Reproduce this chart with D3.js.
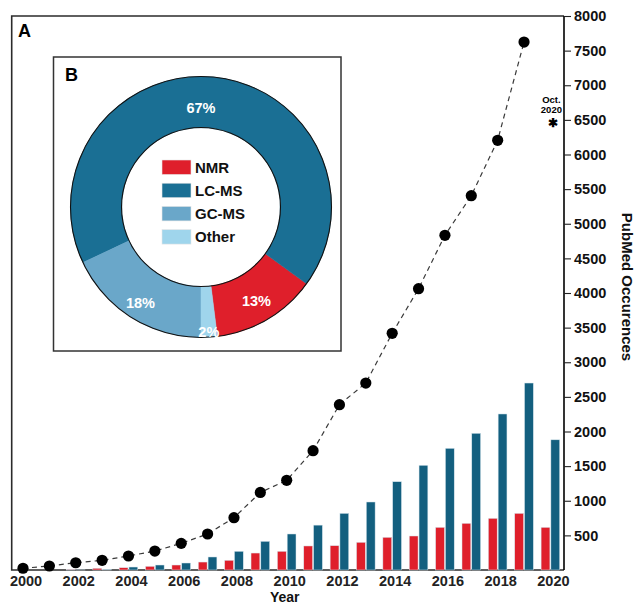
<!DOCTYPE html>
<html>
<head>
<meta charset="utf-8">
<script src="https://cdn.jsdelivr.net/npm/d3@7/dist/d3.min.js"></script>
<style>
  html, body { margin: 0; padding: 0; background: #fff; }
  svg { display: block; font-family: "Liberation Sans", Arial, Helvetica, sans-serif; }
</style>
</head>
<body>
<svg id="chart" width="636" height="606"></svg>
<script>
// ---- Data ----------------------------------------------------------------
const years = d3.range(2000, 2021);
// Yearly PubMed hits per technique (bars)
const nmrCounts  = [0, 0, 8, 25, 33, 53, 72, 115, 140, 245, 270, 347, 351, 400, 472, 491, 616, 674, 746, 818, 616];
const lcmsCounts = [0, 0, 2, 10, 43, 72, 101, 188, 270, 414, 520, 648, 818, 982, 1275, 1512, 1757, 1974, 2253, 2700, 1880];
// Total metabolomics hits per year (dots, 2000-2019) and the partial 2020 count
const totalYears  = d3.range(2000, 2020);
const totalCounts = [25, 58, 105, 140, 202, 274, 385, 520, 755, 1120, 1295, 1723, 2387, 2700, 3418, 4062, 4833, 5405, 6205, 7624];
const partialYear = 2020;
const partialCount = 6455;
// Share of techniques (inset donut), legend order
const techniques = ["NMR", "LC-MS", "GC-MS", "Other"];
const techShare  = [13, 67, 18, 2];
// Axis ticks
const yTicks = d3.range(500, 8001, 500);
const xTickYears = d3.range(2000, 2021, 2);

// ---- Styles ----------------------------------------------------------------
const colors = { "NMR": "#df1f2b", "LC-MS": "#1a6f94", "GC-MS": "#6aa7c9", "Other": "#9fd5ec" };
const barColors = { "NMR": "#df1f2b", "LC-MS": "#135f7f" };

const svg = d3.select("#chart");

// ---- Scales ----------------------------------------------------------------
const frame = { left: 11.7, right: 564, top: 16, bottom: 570 };
const x = d3.scaleLinear().domain([2000, 2020]).range([23, 550.4]);
const y = d3.scaleLinear().domain([0, 8000]).range([frame.bottom, frame.top]);
const sub = d3.scaleBand().domain(["NMR", "LC-MS"]).range([-9.3, 9.3]).paddingInner(0.1);

// ---- Frame -----------------------------------------------------------------
svg.append("path")
  .attr("d", `M${frame.right},${frame.top}H${frame.left}V${frame.bottom}H${frame.right}`)
  .attr("fill", "none").attr("stroke", "#2b2b2b").attr("stroke-width", 1.6);

// ---- Bars ------------------------------------------------------------------
const barRows = [];
years.forEach((yr, i) => {
  barRows.push({ year: yr, key: "NMR", value: nmrCounts[i] });
  barRows.push({ year: yr, key: "LC-MS", value: lcmsCounts[i] });
});
svg.append("g").selectAll("rect").data(barRows.filter(d => d.value > 0)).join("rect")
  .attr("x", d => x(d.year) + sub(d.key))
  .attr("width", sub.bandwidth())
  .attr("y", d => y(d.value))
  .attr("height", d => y(0) - y(d.value))
  .attr("fill", d => barColors[d.key])
  .attr("stroke", "#d8e6ee").attr("stroke-width", 0.5);

// ---- Total line + dots -----------------------------------------------------
const totals = totalYears.map((yr, i) => ({ year: yr, value: totalCounts[i] }));
svg.append("path")
  .datum(totals)
  .attr("d", d3.line().x(d => x(d.year)).y(d => y(d.value)))
  .attr("fill", "none").attr("stroke", "#3a3a3a").attr("stroke-width", 1.2)
  .attr("stroke-dasharray", "5,4");
svg.append("g").selectAll("circle").data(totals).join("circle")
  .attr("cx", d => x(d.year)).attr("cy", d => y(d.value)).attr("r", 5.6)
  .attr("fill", "#000");

// Partial-year marker
const px = x(partialYear) + 3, py = y(partialCount);
svg.append("text").attr("x", px).attr("y", py + 4.5).attr("text-anchor", "middle")
  .attr("font-size", 12).attr("font-weight", "bold").text("✱");
svg.append("text").attr("x", px - 2).attr("y", py - 19.5).attr("text-anchor", "middle")
  .attr("font-size", 9.5).attr("font-weight", "bold").text("Oct.");
svg.append("text").attr("x", px - 2).attr("y", py - 9.5).attr("text-anchor", "middle")
  .attr("font-size", 9.5).attr("font-weight", "bold").text("2020");

// ---- Right axis ------------------------------------------------------------
const yAxis = svg.append("g")
  .attr("transform", `translate(${frame.right},0)`)
  .call(d3.axisRight(y).tickValues(yTicks).tickFormat(d3.format("d"))
    .tickSize(7).tickPadding(3).tickSizeOuter(0));
yAxis.select(".domain").attr("stroke", "#000").attr("stroke-width", 1.6)
  .attr("d", `M0,${frame.top}V${frame.bottom}`);
yAxis.selectAll(".tick line").attr("stroke", "#222").attr("stroke-width", 1.1);
yAxis.selectAll(".tick text").attr("font-size", 14.5).attr("font-weight", "bold")
  .attr("fill", "#111").attr("font-family", "'Liberation Sans', Arial, sans-serif");

svg.append("text")
  .attr("transform", `translate(622,287) rotate(90)`)
  .attr("text-anchor", "middle").attr("font-size", 15).attr("font-weight", "bold")
  .attr("fill", "#111").text("PubMed Occurences");

// ---- Bottom axis labels ----------------------------------------------------
const xAxis = svg.append("g")
  .attr("transform", `translate(2.5,${frame.bottom})`)
  .call(d3.axisBottom(x).tickValues(xTickYears).tickFormat(d3.format("d")).tickSize(0).tickPadding(6));
xAxis.select(".domain").remove();
xAxis.selectAll(".tick text").attr("font-size", 14.5).attr("font-weight", "bold")
  .attr("fill", "#222").attr("font-family", "'Liberation Sans', Arial, sans-serif");

svg.append("text").attr("x", x(2010) - 2).attr("y", 602).attr("text-anchor", "middle")
  .attr("font-size", 14).attr("font-weight", "bold").attr("fill", "#111").text("Year");

svg.append("text").attr("x", 18).attr("y", 37).attr("font-size", 18)
  .attr("font-weight", "bold").text("A");

// ---- Inset donut -----------------------------------------------------------
svg.append("rect").attr("x", 53.5).attr("y", 57).attr("width", 287.5).attr("height", 294)
  .attr("fill", "#fff").attr("stroke", "#333").attr("stroke-width", 1.5);
svg.append("text").attr("x", 65).attr("y", 81).attr("font-size", 18)
  .attr("font-weight", "bold").text("B");

const cx = 201, cy = 207, R = 130.5, r0 = 79.5;
const donut = svg.append("g").attr("transform", `translate(${cx},${cy})`);
const slices = techniques.map((k, i) => ({ key: k, value: techShare[i] }));
// clockwise from the lower right: NMR, Other, GC-MS, LC-MS
const ringOrder = ["NMR", "Other", "GC-MS", "LC-MS"];
const pie = d3.pie().value(d => d.value)
  .sort((a, b) => ringOrder.indexOf(a.key) - ringOrder.indexOf(b.key))
  .startAngle(126 * Math.PI / 180).endAngle(126 * Math.PI / 180 + 2 * Math.PI);
const arcs = pie(slices);
const arc = d3.arc().innerRadius(r0).outerRadius(R);
donut.selectAll("path.slice").data(arcs).join("path").attr("class", "slice")
  .attr("d", arc).attr("fill", d => colors[d.data.key]).attr("stroke", d => colors[d.data.key]).attr("stroke-width", 0.5);
donut.append("circle").attr("r", R).attr("fill", "none").attr("stroke", "#111").attr("stroke-width", 1.1);
donut.append("circle").attr("r", r0).attr("fill", "none").attr("stroke", "#111").attr("stroke-width", 1.1);

// percentage labels
const labelRadius = { "NMR": 109, "LC-MS": 99, "GC-MS": 113, "Other": 125 };
const labelShift = { "LC-MS": -5.4 * Math.PI / 180 };
donut.selectAll("text.pct").data(arcs).join("text").attr("class", "pct")
  .attr("transform", d => {
    const a = (d.startAngle + d.endAngle) / 2 + (labelShift[d.data.key] || 0);
    const rr = labelRadius[d.data.key];
    return `translate(${rr * Math.sin(a)},${-rr * Math.cos(a)})`;
  })
  .attr("text-anchor", "middle").attr("dy", "0.36em")
  .attr("font-size", 14.5).attr("font-weight", "bold").attr("fill", "#fff")
  .text(d => d.data.value + "%");

// legend
const legend = svg.append("g").attr("transform", "translate(162,160)");
const legendRows = legend.selectAll("g").data(techniques).join("g")
  .attr("transform", (d, i) => `translate(0,${i * 23.2})`);
legendRows.append("rect").attr("width", 29).attr("height", 14.5)
  .attr("fill", d => colors[d]).attr("stroke", "#e6e6e6").attr("stroke-width", 0.6);
legendRows.append("text").attr("x", 33).attr("y", 12.8)
  .attr("font-size", 15).attr("font-weight", "bold").attr("fill", "#111").text(d => d);
</script>
</body>
</html>
